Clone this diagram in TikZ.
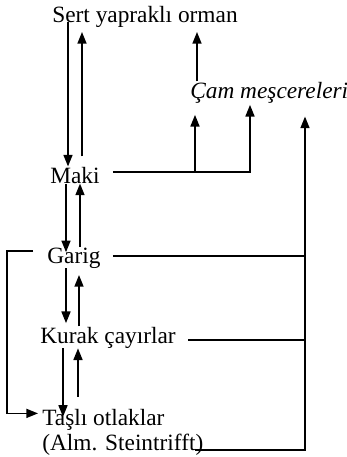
\documentclass[tikz,border=0pt]{standalone}
\usepackage{fontspec}
\setmainfont{Liberation Serif}
\usetikzlibrary{arrows.meta}

\begin{document}
\begin{tikzpicture}[
    x=0.6pt, y=-0.6pt,
    lbl/.style={anchor=base west, inner sep=0pt, font=\fontsize{14}{15}\selectfont},
    arr/.style={line width=1pt, -{Triangle[length=7pt, width=5.4pt]}},
    ln/.style={line width=1pt}
]
  \useasboundingbox (0,0) rectangle (347,457);

  % Draw the stages
  \node[lbl] (sert) at (52,22) {Sert yapraklı orman};
  \node[lbl, font=\fontsize{14}{15}\selectfont\itshape] (cam) at (190,98) {Çam meşcereleri};
  \node[lbl] (maki) at (50,183) {Maki};
  \node[lbl] (garig) at (47,263) {Garig};
  \node[lbl] (kurak) at (40,343) {Kurak çayırlar};
  \node[lbl] (tasli) at (42,425) {Taşlı otlaklar};
  \node[lbl] (alm) at (42,450) {(Alm. Steintrifft)};
  \coordinate (rail) at (305,0);

  % Draw the arrows down and up the main column
  \draw[arr] (68,0 |- sert.base) -- (68,0 |- maki.north);
  \draw[arr, shorten <=6pt, shorten >=6pt] (82,0 |- maki.north) -- (82,0 |- sert.base);
  \draw[arr, shorten >=-3pt] (66,0 |- maki.south) -- (66,0 |- garig.north);
  \draw[arr] (80,0 |- garig.north) -- (80,0 |- maki.south);
  \draw[arr, shorten >=2pt] (66,0 |- garig.south) -- (66,0 |- kurak.north);
  \draw[arr, shorten >=4pt] (79,0 |- kurak.north) -- (79,0 |- garig.south);
  \draw[arr, shorten >=-5pt] (63,0 |- kurak.south) -- (63,0 |- tasli.north);
  \draw[arr, shorten <=7pt] (78,0 |- tasli.north) -- (78,0 |- kurak.south);

  % Draw the jump from Garig to the stony grassland
  \draw[arr] ([shift={(-14,-7)}]garig.west) -- ++(-26,0) |- ([shift={(-4,-6)}]tasli.west);

  % Draw the links to the pine stands
  \draw[arr, shorten >=1pt] ([shift={(13,-3)}]maki.east) coordinate (mk) -| (250,0 |- cam.south);
  \draw[arr, shorten >=7pt] (195,0 |- mk) -- (195,0 |- cam.south);
  \draw[arr, shorten >=6pt] (197,0 |- cam.north) -- (197,0 |- sert.base);

  % Draw the rail on the right
  \draw[arr, shorten >=8pt] ([xshift=-5pt]alm.base east) -| (rail |- cam.south);
  \draw[ln] ([shift={(12,-1.5)}]garig.east) coordinate (gr) -- (rail |- gr);
  \draw[ln] ([shift={(12,2.5)}]kurak.east) coordinate (kr) -- (rail |- kr);
\end{tikzpicture}
\end{document}
